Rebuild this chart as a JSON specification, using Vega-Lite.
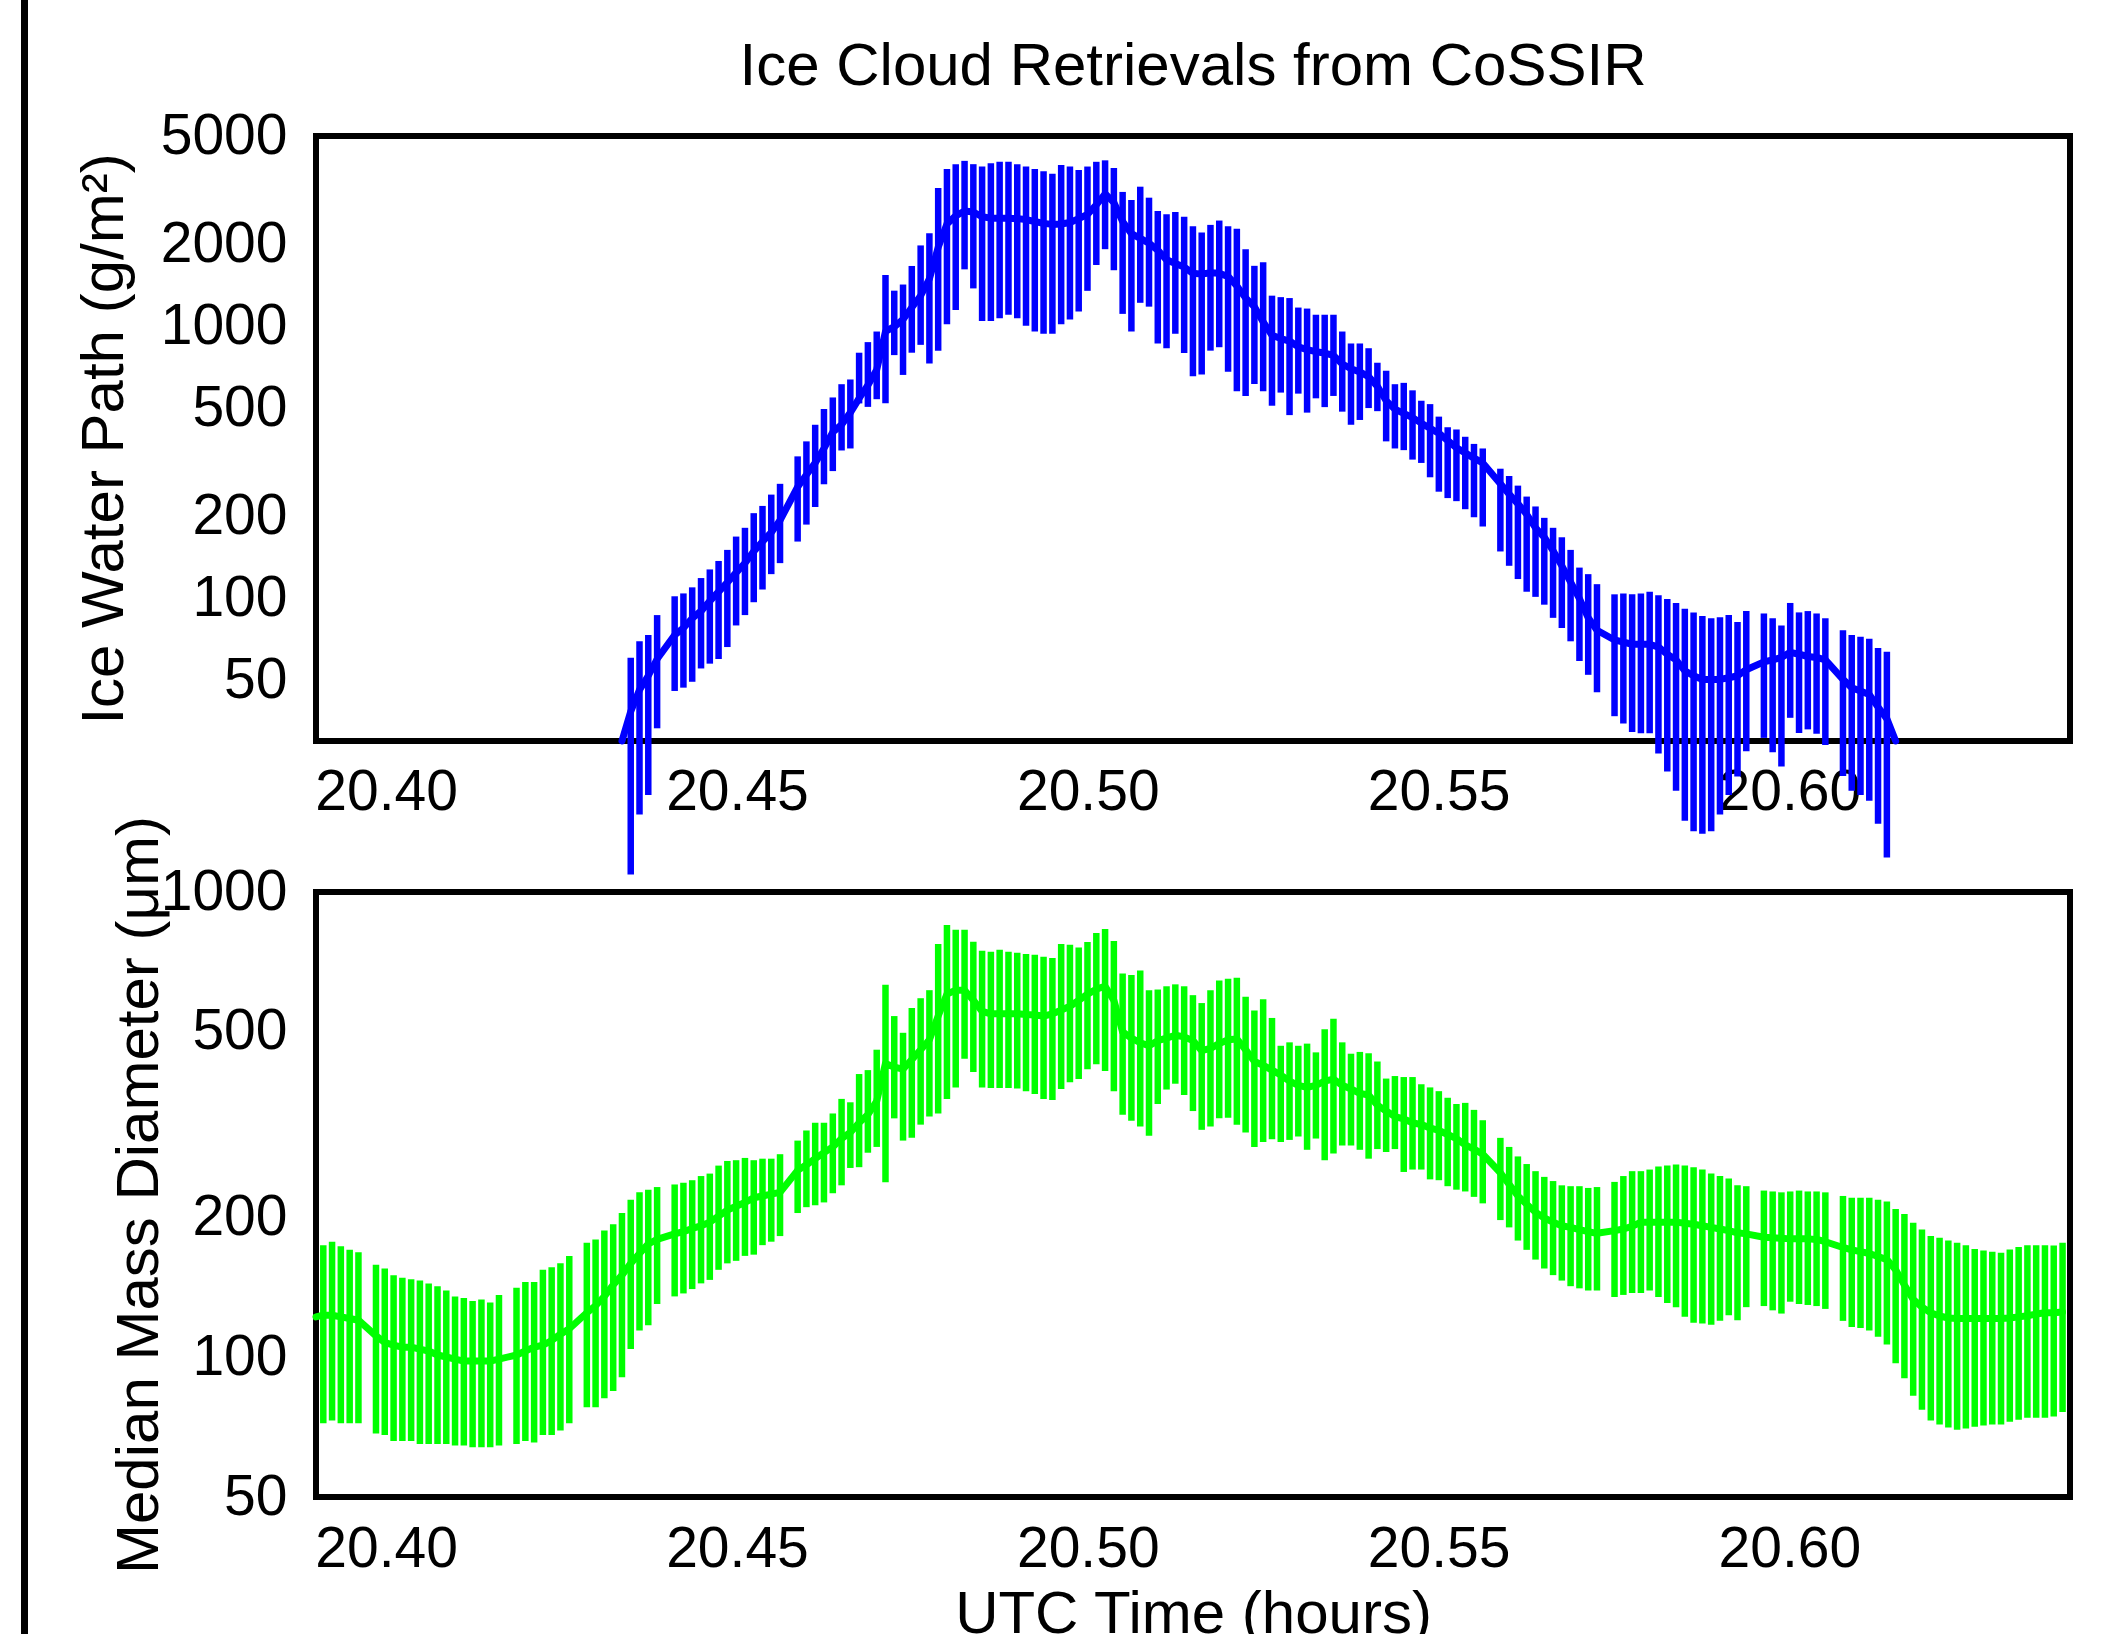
{
  "$schema": "https://vega.github.io/schema/vega-lite/v6.json",
  "background": "white",
  "padding": {"left": 18, "top": 0, "right": 10, "bottom": 0},
  "bounds": "full",
  "center": true,
  "spacing": 39,
  "datasets": {
    "retr": [
      {"time":20.3900,"dm":122},
      {"time":20.39104,"dm":123,"dm_lo":72,"dm_hi":174},
      {"time":20.39229,"dm":123,"dm_lo":73,"dm_hi":177},
      {"time":20.39354,"dm":122,"dm_lo":72,"dm_hi":173},
      {"time":20.39480,"dm":121,"dm_lo":72,"dm_hi":170},
      {"time":20.39605,"dm":120,"dm_lo":72,"dm_hi":168},
      {"time":20.39855,"dm":111,"dm_lo":68.5,"dm_hi":158},
      {"time":20.39980,"dm":107.5,"dm_lo":68,"dm_hi":155},
      {"time":20.40106,"dm":106,"dm_lo":66,"dm_hi":150},
      {"time":20.40231,"dm":105,"dm_lo":66,"dm_hi":148},
      {"time":20.40356,"dm":105,"dm_lo":66,"dm_hi":147},
      {"time":20.40481,"dm":104,"dm_lo":65,"dm_hi":146},
      {"time":20.40606,"dm":103,"dm_lo":65,"dm_hi":144},
      {"time":20.40732,"dm":101,"dm_lo":65,"dm_hi":142},
      {"time":20.40857,"dm":100,"dm_lo":65,"dm_hi":139},
      {"time":20.40982,"dm":99,"dm_lo":64.5,"dm_hi":135},
      {"time":20.41107,"dm":98,"dm_lo":64.5,"dm_hi":134},
      {"time":20.41232,"dm":98,"dm_lo":64,"dm_hi":132},
      {"time":20.41358,"dm":98,"dm_lo":64,"dm_hi":133},
      {"time":20.41483,"dm":98,"dm_lo":64,"dm_hi":131},
      {"time":20.41608,"dm":99,"dm_lo":64.5,"dm_hi":136},
      {"time":20.41858,"dm":101,"dm_lo":65,"dm_hi":141},
      {"time":20.41984,"dm":103,"dm_lo":66,"dm_hi":145},
      {"time":20.42109,"dm":105,"dm_lo":65.5,"dm_hi":145},
      {"time":20.42234,"dm":106,"dm_lo":68,"dm_hi":154},
      {"time":20.42359,"dm":108.5,"dm_lo":68,"dm_hi":156},
      {"time":20.42484,"dm":112,"dm_lo":69.5,"dm_hi":159},
      {"time":20.42610,"dm":115,"dm_lo":72,"dm_hi":165},
      {"time":20.42860,"dm":124.5,"dm_lo":78,"dm_hi":176},
      {"time":20.42985,"dm":129,"dm_lo":78,"dm_hi":179},
      {"time":20.43110,"dm":135,"dm_lo":81.5,"dm_hi":187},
      {"time":20.43236,"dm":143,"dm_lo":84.5,"dm_hi":193},
      {"time":20.43361,"dm":150,"dm_lo":90.5,"dm_hi":204,"iwp":30},
      {"time":20.43486,"dm":159,"dm_lo":104,"dm_hi":218,"iwp":38.5,"iwp_lo":9.7,"iwp_hi":60.6},
      {"time":20.43611,"dm":167,"dm_lo":114,"dm_hi":226,"iwp":46.2,"iwp_lo":16.1,"iwp_hi":69.7},
      {"time":20.43736,"dm":175,"dm_lo":117,"dm_hi":229,"iwp":52.1,"iwp_lo":19.0,"iwp_hi":73.5},
      {"time":20.43862,"dm":179,"dm_lo":130,"dm_hi":232,"iwp":60,"iwp_lo":33.4,"iwp_hi":87},
      {"time":20.44112,"dm":184,"dm_lo":135,"dm_hi":235,"iwp":73.5,"iwp_lo":45.8,"iwp_hi":102},
      {"time":20.44237,"dm":186,"dm_lo":137,"dm_hi":237,"iwp":78,"iwp_lo":47.1,"iwp_hi":104.5},
      {"time":20.44362,"dm":189,"dm_lo":140,"dm_hi":240,"iwp":84.7,"iwp_lo":49.5,"iwp_hi":110},
      {"time":20.44488,"dm":191.5,"dm_lo":144,"dm_hi":245,"iwp":90,"iwp_lo":55.4,"iwp_hi":119},
      {"time":20.44613,"dm":195,"dm_lo":146.5,"dm_hi":248,"iwp":98,"iwp_lo":57.7,"iwp_hi":128},
      {"time":20.44738,"dm":201,"dm_lo":154,"dm_hi":258,"iwp":106,"iwp_lo":60,"iwp_hi":137.5},
      {"time":20.44863,"dm":207,"dm_lo":159,"dm_hi":264,"iwp":114.7,"iwp_lo":66.4,"iwp_hi":151},
      {"time":20.44988,"dm":211,"dm_lo":161,"dm_hi":265,"iwp":124.6,"iwp_lo":79.7,"iwp_hi":169},
      {"time":20.45114,"dm":215,"dm_lo":165,"dm_hi":268,"iwp":135,"iwp_lo":87,"iwp_hi":182},
      {"time":20.45239,"dm":220,"dm_lo":166,"dm_hi":265,"iwp":149,"iwp_lo":97,"iwp_hi":206},
      {"time":20.45364,"dm":222,"dm_lo":174,"dm_hi":267,"iwp":162,"iwp_lo":108,"iwp_hi":219},
      {"time":20.45489,"dm":224,"dm_lo":177,"dm_hi":267,"iwp":175,"iwp_lo":123,"iwp_hi":241},
      {"time":20.45614,"dm":226,"dm_lo":182,"dm_hi":273,"iwp":194,"iwp_lo":135,"iwp_hi":264},
      {"time":20.45865,"dm":252,"dm_lo":204,"dm_hi":292,"iwp":257,"iwp_lo":162,"iwp_hi":333},
      {"time":20.45990,"dm":259,"dm_lo":210,"dm_hi":307,"iwp":285,"iwp_lo":187,"iwp_hi":378},
      {"time":20.46115,"dm":267,"dm_lo":212,"dm_hi":319,"iwp":315,"iwp_lo":217,"iwp_hi":435},
      {"time":20.46240,"dm":275,"dm_lo":215,"dm_hi":319,"iwp":356,"iwp_lo":263,"iwp_hi":497},
      {"time":20.46366,"dm":283,"dm_lo":225,"dm_hi":334,"iwp":409,"iwp_lo":294,"iwp_hi":548},
      {"time":20.46491,"dm":295,"dm_lo":234,"dm_hi":359,"iwp":435,"iwp_lo":350,"iwp_hi":613},
      {"time":20.46616,"dm":304,"dm_lo":255,"dm_hi":353,"iwp":482,"iwp_lo":356,"iwp_hi":638},
      {"time":20.46741,"dm":319,"dm_lo":256,"dm_hi":406,"iwp":544,"iwp_lo":521,"iwp_hi":800},
      {"time":20.46866,"dm":332,"dm_lo":275,"dm_hi":414,"iwp":608,"iwp_lo":506,"iwp_hi":875},
      {"time":20.46992,"dm":355,"dm_lo":283,"dm_hi":458,"iwp":693,"iwp_lo":540,"iwp_hi":957},
      {"time":20.47117,"dm":428,"dm_lo":237.6,"dm_hi":632,"iwp":957,"iwp_lo":522,"iwp_hi":1543},
      {"time":20.47242,"dm":420,"dm_lo":326,"dm_hi":541,"iwp":997,"iwp_lo":784,"iwp_hi":1352},
      {"time":20.47367,"dm":416,"dm_lo":292,"dm_hi":498,"iwp":1059,"iwp_lo":663,"iwp_hi":1424},
      {"time":20.47492,"dm":436,"dm_lo":296,"dm_hi":563,"iwp":1172,"iwp_lo":800,"iwp_hi":1666},
      {"time":20.47618,"dm":458,"dm_lo":316,"dm_hi":591,"iwp":1295,"iwp_lo":855,"iwp_hi":1982},
      {"time":20.47743,"dm":481,"dm_lo":329,"dm_hi":615,"iwp":1493,"iwp_lo":731,"iwp_hi":2198},
      {"time":20.47868,"dm":541,"dm_lo":334,"dm_hi":773,"iwp":1950,"iwp_lo":814,"iwp_hi":3218},
      {"time":20.47993,"dm":603,"dm_lo":359,"dm_hi":849,"iwp":2377,"iwp_lo":1017,"iwp_hi":3784},
      {"time":20.48118,"dm":615,"dm_lo":380,"dm_hi":829,"iwp":2546,"iwp_lo":1148,"iwp_hi":3940},
      {"time":20.48244,"dm":615,"dm_lo":438,"dm_hi":829,"iwp":2651,"iwp_lo":1619,"iwp_hi":4052},
      {"time":20.48369,"dm":585,"dm_lo":410,"dm_hi":782,"iwp":2630,"iwp_lo":1378,"iwp_hi":3940},
      {"time":20.48494,"dm":554,"dm_lo":380,"dm_hi":748,"iwp":2526,"iwp_lo":1046,"iwp_hi":3862},
      {"time":20.48619,"dm":547,"dm_lo":379,"dm_hi":744,"iwp":2496,"iwp_lo":1046,"iwp_hi":3971},
      {"time":20.48744,"dm":547,"dm_lo":379,"dm_hi":751,"iwp":2496,"iwp_lo":1071,"iwp_hi":4020},
      {"time":20.48870,"dm":547,"dm_lo":379,"dm_hi":744,"iwp":2496,"iwp_lo":1103,"iwp_hi":4020},
      {"time":20.48995,"dm":547,"dm_lo":378,"dm_hi":740,"iwp":2486,"iwp_lo":1071,"iwp_hi":3940},
      {"time":20.49120,"dm":545,"dm_lo":373,"dm_hi":736,"iwp":2466,"iwp_lo":1005,"iwp_hi":3862},
      {"time":20.49245,"dm":544,"dm_lo":368,"dm_hi":733,"iwp":2426,"iwp_lo":957,"iwp_hi":3784},
      {"time":20.49370,"dm":541,"dm_lo":359,"dm_hi":726,"iwp":2388,"iwp_lo":939,"iwp_hi":3709},
      {"time":20.49496,"dm":547,"dm_lo":357,"dm_hi":721,"iwp":2368,"iwp_lo":939,"iwp_hi":3634},
      {"time":20.49621,"dm":557,"dm_lo":377,"dm_hi":773,"iwp":2377,"iwp_lo":1017,"iwp_hi":3909},
      {"time":20.49746,"dm":568,"dm_lo":390,"dm_hi":770,"iwp":2407,"iwp_lo":1059,"iwp_hi":3862},
      {"time":20.49871,"dm":585,"dm_lo":396,"dm_hi":760,"iwp":2486,"iwp_lo":1134,"iwp_hi":3754},
      {"time":20.49996,"dm":603,"dm_lo":416,"dm_hi":781,"iwp":2578,"iwp_lo":1350,"iwp_hi":3862},
      {"time":20.50122,"dm":618,"dm_lo":426,"dm_hi":816,"iwp":2794,"iwp_lo":1680,"iwp_hi":4020},
      {"time":20.50247,"dm":627,"dm_lo":412,"dm_hi":833,"iwp":3066,"iwp_lo":1920,"iwp_hi":4070},
      {"time":20.50372,"dm":585,"dm_lo":373,"dm_hi":785,"iwp":2851,"iwp_lo":1607,"iwp_hi":3815},
      {"time":20.50497,"dm":500,"dm_lo":332,"dm_hi":668,"iwp":2426,"iwp_lo":1111,"iwp_hi":3116},
      {"time":20.50622,"dm":485,"dm_lo":322,"dm_hi":663,"iwp":2189,"iwp_lo":957,"iwp_hi":2910},
      {"time":20.50748,"dm":474,"dm_lo":313,"dm_hi":678,"iwp":2104,"iwp_lo":1220,"iwp_hi":3257},
      {"time":20.50873,"dm":467,"dm_lo":299,"dm_hi":615,"iwp":2020,"iwp_lo":1181,"iwp_hi":2968},
      {"time":20.50998,"dm":479,"dm_lo":350,"dm_hi":617,"iwp":1903,"iwp_lo":865,"iwp_hi":2651},
      {"time":20.51123,"dm":485,"dm_lo":376,"dm_hi":627,"iwp":1755,"iwp_lo":831,"iwp_hi":2578},
      {"time":20.51248,"dm":492,"dm_lo":387,"dm_hi":633,"iwp":1700,"iwp_lo":939,"iwp_hi":2630},
      {"time":20.51374,"dm":488,"dm_lo":366,"dm_hi":627,"iwp":1650,"iwp_lo":798,"iwp_hi":2526},
      {"time":20.51499,"dm":479,"dm_lo":338,"dm_hi":600,"iwp":1565,"iwp_lo":656,"iwp_hi":2329},
      {"time":20.51624,"dm":456,"dm_lo":308,"dm_hi":577,"iwp":1555,"iwp_lo":666,"iwp_hi":2210},
      {"time":20.51749,"dm":461,"dm_lo":313,"dm_hi":615,"iwp":1574,"iwp_lo":814,"iwp_hi":2358},
      {"time":20.51874,"dm":472,"dm_lo":326,"dm_hi":645,"iwp":1565,"iwp_lo":838,"iwp_hi":2446},
      {"time":20.52000,"dm":481,"dm_lo":327,"dm_hi":651,"iwp":1524,"iwp_lo":681,"iwp_hi":2329},
      {"time":20.52125,"dm":483,"dm_lo":316,"dm_hi":654,"iwp":1407,"iwp_lo":577,"iwp_hi":2283},
      {"time":20.52250,"dm":458,"dm_lo":304,"dm_hi":595,"iwp":1270,"iwp_lo":555,"iwp_hi":1920},
      {"time":20.52375,"dm":432,"dm_lo":283,"dm_hi":556,"iwp":1181,"iwp_lo":614,"iwp_hi":1668},
      {"time":20.52500,"dm":424,"dm_lo":290,"dm_hi":588,"iwp":1038,"iwp_lo":578,"iwp_hi":1720},
      {"time":20.52626,"dm":414,"dm_lo":294,"dm_hi":536,"iwp":927,"iwp_lo":511,"iwp_hi":1296},
      {"time":20.52751,"dm":404,"dm_lo":290,"dm_hi":467,"iwp":902,"iwp_lo":571,"iwp_hi":1280},
      {"time":20.52876,"dm":392,"dm_lo":293,"dm_hi":475,"iwp":883,"iwp_lo":472,"iwp_hi":1270},
      {"time":20.53001,"dm":384,"dm_lo":298,"dm_hi":467,"iwp":841,"iwp_lo":566,"iwp_hi":1172},
      {"time":20.53126,"dm":380,"dm_lo":279,"dm_hi":472,"iwp":821,"iwp_lo":482,"iwp_hi":1162},
      {"time":20.53252,"dm":384,"dm_lo":295,"dm_hi":452,"iwp":807,"iwp_lo":544,"iwp_hi":1103},
      {"time":20.53377,"dm":392,"dm_lo":265,"dm_hi":507,"iwp":798,"iwp_lo":505,"iwp_hi":1103},
      {"time":20.53502,"dm":396,"dm_lo":274,"dm_hi":534,"iwp":782,"iwp_lo":555,"iwp_hi":1103},
      {"time":20.53627,"dm":384,"dm_lo":285,"dm_hi":475,"iwp":727,"iwp_lo":486,"iwp_hi":957},
      {"time":20.53752,"dm":377,"dm_lo":285,"dm_hi":449,"iwp":699,"iwp_lo":435,"iwp_hi":865},
      {"time":20.53878,"dm":369,"dm_lo":279,"dm_hi":453,"iwp":680,"iwp_lo":453,"iwp_hi":865},
      {"time":20.54003,"dm":366,"dm_lo":267,"dm_hi":450,"iwp":653,"iwp_lo":501,"iwp_hi":831},
      {"time":20.54128,"dm":348,"dm_lo":280,"dm_hi":432,"iwp":602,"iwp_lo":488,"iwp_hi":735},
      {"time":20.54253,"dm":338,"dm_lo":276,"dm_hi":397,"iwp":533,"iwp_lo":378,"iwp_hi":687},
      {"time":20.54378,"dm":329,"dm_lo":280,"dm_hi":402,"iwp":496,"iwp_lo":356,"iwp_hi":613},
      {"time":20.54504,"dm":325,"dm_lo":250,"dm_hi":400,"iwp":479,"iwp_lo":351,"iwp_hi":620},
      {"time":20.54629,"dm":319,"dm_lo":253,"dm_hi":400,"iwp":462,"iwp_lo":324,"iwp_hi":582},
      {"time":20.54754,"dm":316,"dm_lo":253,"dm_hi":386,"iwp":441,"iwp_lo":315,"iwp_hi":533},
      {"time":20.54879,"dm":311,"dm_lo":241,"dm_hi":380,"iwp":422,"iwp_lo":279,"iwp_hi":518},
      {"time":20.55004,"dm":307,"dm_lo":240,"dm_hi":373,"iwp":405,"iwp_lo":247,"iwp_hi":466},
      {"time":20.55130,"dm":301,"dm_lo":233,"dm_hi":361,"iwp":381,"iwp_lo":234,"iwp_hi":426},
      {"time":20.55255,"dm":295,"dm_lo":229,"dm_hi":350,"iwp":358,"iwp_lo":228,"iwp_hi":418},
      {"time":20.55380,"dm":286,"dm_lo":227,"dm_hi":352,"iwp":343,"iwp_lo":213,"iwp_hi":393},
      {"time":20.55505,"dm":280,"dm_lo":221,"dm_hi":340,"iwp":328,"iwp_lo":199,"iwp_hi":370},
      {"time":20.55630,"dm":273,"dm_lo":214,"dm_hi":323,"iwp":315,"iwp_lo":184,"iwp_hi":356},
      {"time":20.55881,"dm":249,"dm_lo":197,"dm_hi":296,"iwp":264,"iwp_lo":149,"iwp_hi":300},
      {"time":20.56006,"dm":235,"dm_lo":190,"dm_hi":283,"iwp":242,"iwp_lo":132,"iwp_hi":282},
      {"time":20.56131,"dm":222,"dm_lo":178,"dm_hi":270,"iwp":223,"iwp_lo":118,"iwp_hi":260},
      {"time":20.56256,"dm":213,"dm_lo":170,"dm_hi":260,"iwp":204,"iwp_lo":106,"iwp_hi":237},
      {"time":20.56382,"dm":205,"dm_lo":162,"dm_hi":251,"iwp":182,"iwp_lo":101.5,"iwp_hi":218},
      {"time":20.56507,"dm":199,"dm_lo":155,"dm_hi":244,"iwp":168,"iwp_lo":95,"iwp_hi":198},
      {"time":20.56632,"dm":195,"dm_lo":150,"dm_hi":239,"iwp":150,"iwp_lo":85,"iwp_hi":182},
      {"time":20.56757,"dm":191.5,"dm_lo":146,"dm_hi":234,"iwp":132,"iwp_lo":78,"iwp_hi":168},
      {"time":20.56882,"dm":190,"dm_lo":142,"dm_hi":233,"iwp":115,"iwp_lo":69.7,"iwp_hi":151},
      {"time":20.57008,"dm":188,"dm_lo":140.5,"dm_hi":233,"iwp":100,"iwp_lo":59,"iwp_hi":130},
      {"time":20.57133,"dm":186,"dm_lo":139,"dm_hi":231,"iwp":85,"iwp_lo":52.5,"iwp_hi":123},
      {"time":20.57258,"dm":184.5,"dm_lo":139,"dm_hi":232,"iwp":76.5,"iwp_lo":45.3,"iwp_hi":113},
      {"time":20.57508,"dm":187,"dm_lo":134.6,"dm_hi":238,"iwp":70.5,"iwp_lo":37,"iwp_hi":103.7},
      {"time":20.57634,"dm":188.5,"dm_lo":136,"dm_hi":245,"iwp":69.2,"iwp_lo":34.8,"iwp_hi":104.5},
      {"time":20.57759,"dm":191,"dm_lo":137.3,"dm_hi":251,"iwp":68,"iwp_lo":32.4,"iwp_hi":103.7},
      {"time":20.57884,"dm":195,"dm_lo":137.3,"dm_hi":251,"iwp":68,"iwp_lo":32,"iwp_hi":104.5},
      {"time":20.58009,"dm":195,"dm_lo":139,"dm_hi":253,"iwp":68,"iwp_lo":32,"iwp_hi":106},
      {"time":20.58134,"dm":195,"dm_lo":134.6,"dm_hi":257,"iwp":66.4,"iwp_lo":27,"iwp_hi":103},
      {"time":20.58260,"dm":195,"dm_lo":130.7,"dm_hi":258,"iwp":62.5,"iwp_lo":23.2,"iwp_hi":99.6},
      {"time":20.58385,"dm":195,"dm_lo":128,"dm_hi":259.5,"iwp":59.6,"iwp_lo":19.7,"iwp_hi":96.4},
      {"time":20.58510,"dm":194,"dm_lo":122,"dm_hi":258,"iwp":54.3,"iwp_lo":15.3,"iwp_hi":91.8},
      {"time":20.58635,"dm":193,"dm_lo":118.5,"dm_hi":256,"iwp":52.1,"iwp_lo":14,"iwp_hi":89},
      {"time":20.58760,"dm":191.5,"dm_lo":118,"dm_hi":253,"iwp":50.5,"iwp_lo":13.7,"iwp_hi":86.4},
      {"time":20.58886,"dm":190,"dm_lo":117.3,"dm_hi":248,"iwp":50.5,"iwp_lo":14,"iwp_hi":84.7},
      {"time":20.59011,"dm":188.5,"dm_lo":119.6,"dm_hi":245,"iwp":50.5,"iwp_lo":16.1,"iwp_hi":85.4},
      {"time":20.59136,"dm":187,"dm_lo":123,"dm_hi":242,"iwp":51.2,"iwp_lo":19.0,"iwp_hi":87},
      {"time":20.59261,"dm":185,"dm_lo":120,"dm_hi":234,"iwp":52.1,"iwp_lo":22.2,"iwp_hi":82},
      {"time":20.59386,"dm":184,"dm_lo":128,"dm_hi":233,"iwp":54.8,"iwp_lo":27.5,"iwp_hi":90},
      {"time":20.59637,"dm":181,"dm_lo":128.7,"dm_hi":228,"iwp":58.6,"iwp_lo":30.8,"iwp_hi":88.2},
      {"time":20.59762,"dm":180.6,"dm_lo":126,"dm_hi":227,"iwp":59.6,"iwp_lo":27.3,"iwp_hi":84.7},
      {"time":20.59887,"dm":180,"dm_lo":124,"dm_hi":226,"iwp":60.8,"iwp_lo":24.2,"iwp_hi":79.7},
      {"time":20.60012,"dm":179.5,"dm_lo":131.5,"dm_hi":227,"iwp":63.5,"iwp_lo":36.5,"iwp_hi":96.4},
      {"time":20.60138,"dm":179.5,"dm_lo":130,"dm_hi":228,"iwp":62.5,"iwp_lo":32.1,"iwp_hi":89},
      {"time":20.60263,"dm":179.5,"dm_lo":129.4,"dm_hi":227,"iwp":61.3,"iwp_lo":33.1,"iwp_hi":90},
      {"time":20.60388,"dm":179,"dm_lo":128.7,"dm_hi":227,"iwp":60.8,"iwp_lo":31.9,"iwp_hi":88.2},
      {"time":20.60513,"dm":177,"dm_lo":126.9,"dm_hi":226,"iwp":59.6,"iwp_lo":29,"iwp_hi":84.7},
      {"time":20.60764,"dm":172,"dm_lo":119.6,"dm_hi":222,"iwp":50.5,"iwp_lo":22.3,"iwp_hi":76.5},
      {"time":20.60889,"dm":170,"dm_lo":116,"dm_hi":220,"iwp":47.1,"iwp_lo":19.7,"iwp_hi":73.5},
      {"time":20.61014,"dm":168.5,"dm_lo":115.5,"dm_hi":220,"iwp":45.8,"iwp_lo":19.0,"iwp_hi":72.5},
      {"time":20.61139,"dm":167,"dm_lo":114,"dm_hi":220,"iwp":44.4,"iwp_lo":18.1,"iwp_hi":71.3},
      {"time":20.61264,"dm":164.5,"dm_lo":110.6,"dm_hi":218,"iwp":40,"iwp_lo":14.9,"iwp_hi":65.8},
      {"time":20.61390,"dm":162,"dm_lo":106.4,"dm_hi":216,"iwp":36.2,"iwp_lo":11.2,"iwp_hi":63.8},
      {"time":20.61515,"dm":154,"dm_lo":97,"dm_hi":208,"iwp":30},
      {"time":20.61640,"dm":142.8,"dm_lo":90,"dm_hi":203},
      {"time":20.61765,"dm":133,"dm_lo":82.5,"dm_hi":194.5},
      {"time":20.61890,"dm":128,"dm_lo":77,"dm_hi":188},
      {"time":20.62016,"dm":124.5,"dm_lo":73,"dm_hi":182},
      {"time":20.62141,"dm":122.5,"dm_lo":71.6,"dm_hi":180.6},
      {"time":20.62266,"dm":121.3,"dm_lo":70.5,"dm_hi":178},
      {"time":20.62391,"dm":121,"dm_lo":69.8,"dm_hi":176},
      {"time":20.62516,"dm":121,"dm_lo":70.2,"dm_hi":174},
      {"time":20.62642,"dm":121,"dm_lo":70.8,"dm_hi":170.7},
      {"time":20.62767,"dm":121,"dm_lo":71.2,"dm_hi":169.5},
      {"time":20.62892,"dm":121,"dm_lo":71.6,"dm_hi":168.5},
      {"time":20.63017,"dm":121,"dm_lo":71.6,"dm_hi":167.5},
      {"time":20.63142,"dm":121.3,"dm_lo":72.6,"dm_hi":170.3},
      {"time":20.63268,"dm":122,"dm_lo":73.3,"dm_hi":172.5},
      {"time":20.63393,"dm":122.7,"dm_lo":74,"dm_hi":174},
      {"time":20.63518,"dm":123.7,"dm_lo":74,"dm_hi":174},
      {"time":20.63643,"dm":124.5,"dm_lo":74,"dm_hi":174},
      {"time":20.63768,"dm":124.5,"dm_lo":74.5,"dm_hi":173.7},
      {"time":20.63894,"dm":125,"dm_lo":76.2,"dm_hi":176}
    ]
  },
  "hconcat": [
    {
      "width": 1,
      "height": 1774,
      "data": {"values": [{"a": 1}]},
      "mark": {"type": "point", "opacity": 0},
      "encoding": {},
      "view": {"stroke": "black", "strokeWidth": 6}
    },
    {
      "bounds": "flush",
      "spacing": 151,
      "vconcat": [
        {
          "width": 1754,
          "height": 605,
          "data": {"name": "retr"},
          "title": {"text": "Ice Cloud Retrievals from CoSSIR", "anchor": "middle", "frame": "group", "offset": -51, "baseline": "bottom"},
          "layer": [
            {
              "mark": {"type": "rule", "color": "#0000ff", "strokeWidth": 6.5, "strokeCap": "butt"},
              "encoding": {
                "x": {"field": "time", "type": "quantitative", "title": null,
                      "scale": {"domain": [20.39, 20.64], "nice": false, "zero": false},
                      "axis": {"values": [20.4, 20.45, 20.5, 20.55, 20.6], "format": ".2f", "labelPadding": 23}},
                "y": {"field": "iwp_lo", "type": "quantitative", "title": "Ice Water Path (g/m²)",
                      "scale": {"type": "log", "domain": [30, 5000], "nice": false},
                      "axis": {"values": [50, 100, 200, 500, 1000, 2000, 5000], "format": "d", "minExtent": 160, "maxExtent": 160, "titlePadding": 21}},
                "y2": {"field": "iwp_hi"}
              }
            },
            {
              "mark": {"type": "line", "color": "#0000ff", "strokeWidth": 7, "strokeJoin": "round", "strokeCap": "round"},
              "encoding": {
                "x": {"field": "time", "type": "quantitative", "title": null},
                "y": {"field": "iwp", "type": "quantitative", "title": "Ice Water Path (g/m²)"}
              }
            }
          ]
        },
        {
          "width": 1754,
          "height": 605,
          "data": {"name": "retr"},
          "layer": [
            {
              "mark": {"type": "rule", "color": "#00ff00", "strokeWidth": 6.5, "strokeCap": "butt"},
              "encoding": {
                "x": {"field": "time", "type": "quantitative", "title": "UTC Time (hours)",
                      "scale": {"domain": [20.39, 20.64], "nice": false, "zero": false},
                      "axis": {"values": [20.4, 20.45, 20.5, 20.55, 20.6], "format": ".2f", "labelPadding": 24, "minExtent": 70, "maxExtent": 70, "titlePadding": 18}},
                "y": {"field": "dm_lo", "type": "quantitative", "title": "Median Mass Diameter (μm)",
                      "scale": {"type": "log", "domain": [50, 1000], "nice": false},
                      "axis": {"values": [50, 100, 200, 500, 1000], "format": "d", "minExtent": 130, "maxExtent": 130, "titlePadding": 16}},
                "y2": {"field": "dm_hi"}
              }
            },
            {
              "mark": {"type": "line", "color": "#00ff00", "strokeWidth": 7, "strokeJoin": "round", "strokeCap": "round"},
              "encoding": {
                "x": {"field": "time", "type": "quantitative", "title": "UTC Time (hours)"},
                "y": {"field": "dm", "type": "quantitative", "title": "Median Mass Diameter (μm)"}
              }
            }
          ]
        }
      ]
    }
  ],
  "config": {
    "font": "Liberation Sans",
    "view": {"stroke": "black", "strokeWidth": 6},
    "axis": {
      "domain": false, "ticks": false, "grid": false,
      "labelFont": "Liberation Sans", "labelFontSize": 57, "labelColor": "black",
      "labelPadding": 29, "labelFlush": false, "labelOverlap": false, "labelBound": false,
      "titleFont": "Liberation Sans", "titleFontSize": 60, "titleFontWeight": "normal", "titleColor": "black"
    },
    "title": {"font": "Liberation Sans", "fontSize": 60, "fontWeight": "normal", "color": "black"}
  }
}
